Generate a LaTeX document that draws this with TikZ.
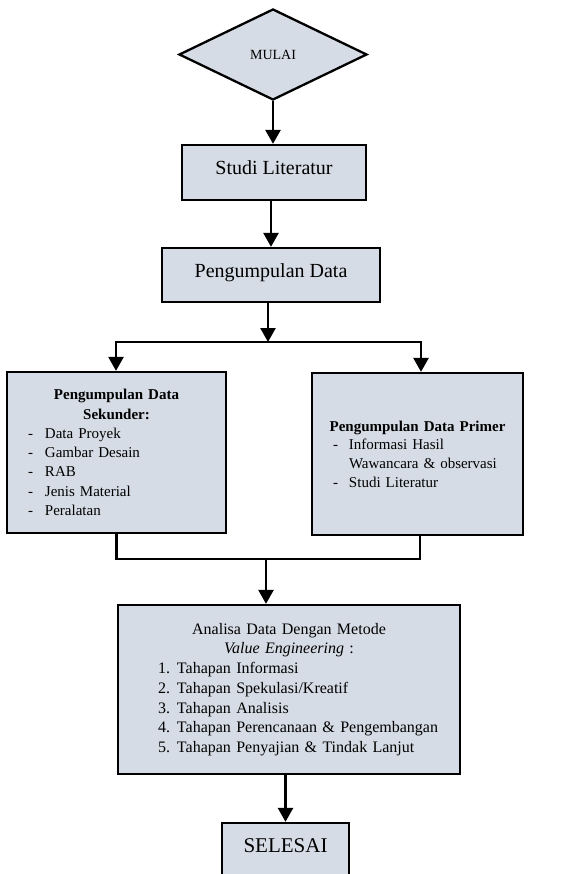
\documentclass[tikz,border=0pt]{standalone}
\usepackage{fontspec}
\setmainfont{Liberation Serif}
\usetikzlibrary{shapes.geometric,arrows.meta}
\definecolor{boxfill}{RGB}{214,220,229}
\begin{document}
\begin{tikzpicture}[x=1pt,y=-1pt,
  box/.style={draw=black, line width=2.3pt, fill=boxfill, inner sep=0pt},
  onel/.style={text height=0.72em, text depth=0.3em},
  arr/.style={line width=2.6pt, -{Triangle[width=15pt,length=14pt]}},
  ln/.style={line width=2.6pt}]
\clip (0,0) rectangle (560,874);
% nodes
\node[box, diamond, minimum width=188pt, minimum height=91pt,
      font=\fontsize{14}{16}\selectfont] (mulai) at (273,54.5) {MULAI};
\node[box, onel, minimum width=184pt, minimum height=55pt,
      font=\fontsize{20}{24}\selectfont] (studi) at (274,172.5) {Studi Literatur};
\node[box, onel, minimum width=218pt, minimum height=54pt,
      font=\fontsize{20}{24}\selectfont] (pd) at (271,275) {Pengumpulan Data};
\node[box, minimum width=219pt, minimum height=161pt, text width=219pt, align=left,
      font=\fontsize{15}{19.3}\selectfont] (sek) at (116.5,452.5)
  {{\centering\bfseries Pengumpulan Data\\Sekunder:\par}
   \hspace*{21pt}\makebox[17pt][l]{-}Data Proyek\\
   \hspace*{21pt}\makebox[17pt][l]{-}Gambar Desain\\
   \hspace*{21pt}\makebox[17pt][l]{-}RAB\\
   \hspace*{21pt}\makebox[17pt][l]{-}Jenis Material\\
   \hspace*{21pt}\makebox[17pt][l]{-}Peralatan};
\node[box, minimum width=211pt, minimum height=162pt, text width=211pt, align=left,
      font=\fontsize{15}{18.7}\selectfont] (prim) at (417.5,454)
  {{\centering\bfseries Pengumpulan Data Primer\par}
   \hspace*{21pt}\makebox[16pt][l]{-}Informasi Hasil\\
   \hspace*{37pt}Wawancara \& observasi\\
   \hspace*{21pt}\makebox[16pt][l]{-}Studi Literatur};
\node[box, minimum width=342pt, minimum height=169pt, text width=342pt, align=left,
      font=\fontsize{16}{19.7}\selectfont] (ana) at (289,689.5)
  {{\centering Analisa Data Dengan Metode\\\textit{Value Engineering} :\par}
   \hspace*{40pt}\makebox[19pt][l]{1.}Tahapan Informasi\\
   \hspace*{40pt}\makebox[19pt][l]{2.}Tahapan Spekulasi/Kreatif\\
   \hspace*{40pt}\makebox[19pt][l]{3.}Tahapan Analisis\\
   \hspace*{40pt}\makebox[19pt][l]{4.}Tahapan Perencanaan \& Pengembangan\\
   \hspace*{40pt}\makebox[19pt][l]{5.}Tahapan Penyajian \& Tindak Lanjut\par\vspace{9pt}};
\node[box, onel, minimum width=127pt, minimum height=55pt,
      font=\fontsize{21}{25}\selectfont] (sel) at (285.5,850.5) {SELESAI};
% connector points
\coordinate (split) at (268,342);
\coordinate (sl) at (116,342);
\coordinate (sr) at (421,342);
\coordinate (mr) at (420,559);
\coordinate (mj) at (266,559);
% connectors
\draw[arr] (mulai.south) -- (mulai.south |- studi.north);
\draw[arr] (pd.north |- studi.south) -- (pd.north);
\draw[arr] (split |- pd.south) -- (split);
\draw[arr] (split) -| (sl |- sek.north);
\draw[arr] (split) -| (sr |- prim.north);
\draw[ln] (sek.south) |- (mr) -- (mr |- prim.south);
\draw[arr] (mj) -- (mj |- ana.north);
\draw[arr] (sel.north |- ana.south) -- (sel.north);
\end{tikzpicture}
\end{document}
